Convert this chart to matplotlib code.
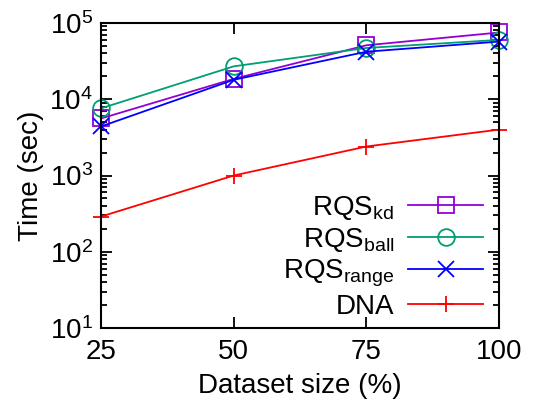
import matplotlib
matplotlib.use("Agg")
import matplotlib.pyplot as plt
from matplotlib.ticker import LogLocator, NullFormatter

plt.rcParams["font.family"] = ["Liberation Sans", "DejaVu Sans"]
plt.rcParams["mathtext.fontset"] = "custom"
plt.rcParams["mathtext.rm"] = "Liberation Sans"
plt.rcParams["mathtext.it"] = "Liberation Sans:italic"
plt.rcParams["mathtext.bf"] = "Liberation Sans:bold"

sizes = [25, 50, 75, 100]
rqs_kd = [5600, 18500, 51000, 75000]
rqs_ball = [7600, 27000, 47000, 60000]
rqs_range = [4400, 18000, 42000, 57000]
dna = [290, 1000, 2400, 4000]

labels = [r"RQS$_{\mathrm{kd}}$", r"RQS$_{\mathrm{ball}}$", r"RQS$_{\mathrm{range}}$", "DNA"]
colors = ["#9400d3", "#009e73", "#0000ff", "#ff0000"]
markers = ["s", "o", "x", "+"]
series = [rqs_kd, rqs_ball, rqs_range, dna]

fig = plt.figure(figsize=(5.38, 4.03), dpi=100)
ax = fig.add_axes([0.188, 0.186, 0.7395, 0.757])

for vals, lab, c, m in zip(series, labels, colors, markers):
    ax.plot(sizes, vals, color=c, marker=m, label=lab, lw=1.3, ms=12,
            mfc="none", mew=1.3, clip_on=False)

ax.set_yscale("log")
ax.set_xlim(25, 100)
ax.set_ylim(10, 1e5)
ax.set_xticks(sizes)
ax.yaxis.set_major_locator(LogLocator(base=10, numticks=10))
ax.yaxis.set_minor_locator(LogLocator(base=10, subs=range(2, 10), numticks=10))
ax.yaxis.set_minor_formatter(NullFormatter())
ax.tick_params(which="both", direction="in", top=True, right=True, labelsize=20,
               width=1.3)
ax.tick_params(which="major", length=8)
ax.tick_params(which="minor", length=4)
ax.tick_params(axis="x", pad=8)
ax.tick_params(axis="y", pad=6)
for s in ax.spines.values():
    s.set_linewidth(1.5)

ax.set_xlabel("Dataset size (%)", fontsize=20, labelpad=6)
ax.set_ylabel("Time (sec)", fontsize=20, labelpad=4)

ax.legend(loc="lower right", markerfirst=False, frameon=False, fontsize=20,
          handlelength=2.7, handletextpad=0.5, labelspacing=0.15,
          borderaxespad=0, borderpad=0, bbox_to_anchor=(0.96, 0.028))

fig.savefig("out.png", dpi=100)
